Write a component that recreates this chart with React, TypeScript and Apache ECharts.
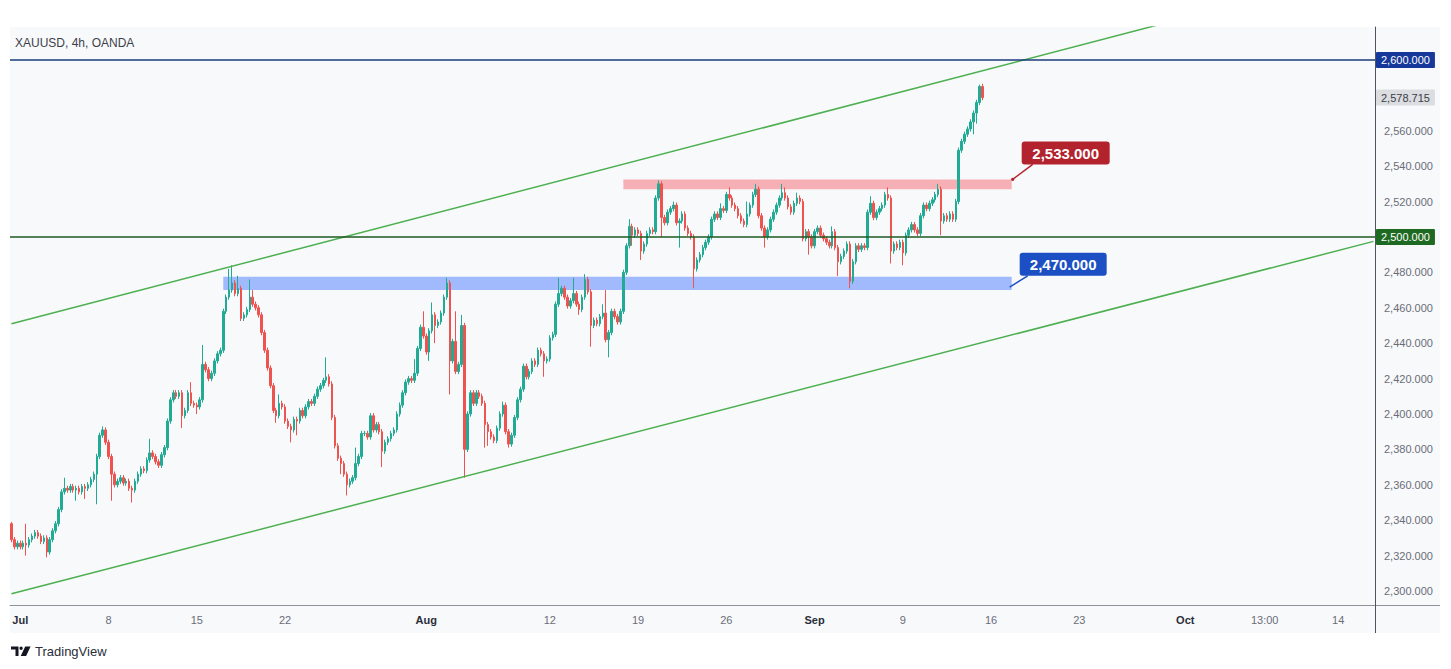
import { useEffect, useRef } from "react";
import * as echarts from "echarts";

const FONT = '"Liberation Sans", Arial, sans-serif';
const UP = "#22ab94";
const DOWN = "#ef5350";

// ---- data -------------------------------------------------------------
const firstOpen = 2338;
// 4h closes, 6 per trading day (Jun 28 tail, then Jul 1 .. Sep 13)
const closes: number[] = [
  2329, 2325, 2327,
  2325, 2327, 2326, 2329, 2331, 2333, // Jul 1
  2331, 2328, 2330, 2322, 2329, 2334,
  2338, 2346, 2356, 2358, 2357, 2359,
  2357, 2358, 2356, 2359, 2358, 2360,
  2363, 2366, 2376, 2388, 2391, 2384,
  2376, 2366, 2360, 2362, 2364, 2361, // Jul 8
  2362, 2358, 2357, 2362, 2366, 2369,
  2368, 2374, 2378, 2376, 2373, 2371,
  2377, 2381, 2396, 2408, 2412, 2410,
  2412, 2399, 2402, 2412, 2406, 2405,
  2404, 2408, 2428, 2425, 2420, 2423, // Jul 15
  2430, 2434, 2436, 2458, 2466, 2470,
  2474, 2468, 2471, 2454, 2456, 2459,
  2466, 2462, 2460, 2456, 2446, 2436,
  2426, 2416, 2402, 2399, 2406, 2404,
  2396, 2393, 2391, 2397, 2396, 2402, // Jul 22
  2399, 2404, 2407, 2406, 2410, 2414,
  2416, 2419, 2421, 2417, 2398, 2382,
  2375, 2372, 2366, 2360, 2362, 2364,
  2372, 2376, 2389, 2389, 2387, 2399,
  2391, 2394, 2390, 2379, 2384, 2386, // Jul 29
  2389, 2391, 2400, 2405, 2412, 2418,
  2420, 2419, 2423, 2437, 2449, 2444,
  2435, 2447, 2456, 2450, 2452, 2457, // Aug 1
  2466, 2474, 2430, 2441, 2424, 2428,
  2450, 2380, 2400, 2412, 2406, 2412, // Aug 5
  2410, 2406, 2394, 2390, 2387, 2385,
  2392, 2400, 2405, 2390, 2383, 2388,
  2398, 2408, 2414, 2427, 2421, 2424,
  2430, 2428, 2436, 2434, 2430, 2431,
  2443, 2445, 2462, 2468, 2471, 2466, // Aug 12
  2461, 2464, 2468, 2462, 2459, 2466,
  2476, 2469, 2450, 2453, 2451, 2455,
  2457, 2442, 2446, 2458, 2455, 2452,
  2458, 2480, 2495, 2506, 2501, 2504,
  2502, 2492, 2496, 2502, 2504, 2503, // Aug 19
  2522, 2530, 2511, 2508, 2514, 2516,
  2518, 2508, 2509, 2513, 2505, 2502,
  2500, 2482, 2487, 2490, 2494, 2497,
  2500, 2510, 2513, 2511, 2516, 2515,
  2524, 2522, 2518, 2516, 2512, 2509, // Aug 26
  2507, 2513, 2518, 2524, 2527, 2512,
  2505, 2500, 2504, 2510, 2514, 2518,
  2522, 2525, 2522, 2517, 2514, 2519,
  2522, 2520, 2499, 2503, 2500, 2495,
  2503, 2505, 2501, 2499, 2497, 2495, // Sep 2
  2503, 2494, 2486, 2489, 2492, 2496,
  2475, 2486, 2495, 2493, 2495, 2494,
  2514, 2519, 2511, 2514, 2516, 2518,
  2524, 2522, 2492, 2496, 2494, 2497,
  2491, 2501, 2504, 2507, 2504, 2502, // Sep 9
  2512, 2518, 2516, 2519, 2521, 2524,
  2527, 2509, 2512, 2510, 2513, 2510,
  2520, 2549, 2554, 2558, 2561, 2565,
  2570, 2576, 2585, 2578.715,
];

// explicit wick extremes [candle index, price]
const wickHighs: [number, number][] = [
  [0, 2339], [5, 2338], [18, 2364], [31, 2393], [47, 2386], [61, 2418], [65, 2439],
  [74, 2482], [75, 2484], [77, 2478], [81, 2476], [82, 2470], [91, 2411], [107, 2432],
  [117, 2381], [137, 2431], [140, 2458], [143, 2463], [148, 2477], [151, 2458], [153, 2456],
  [167, 2407], [186, 2477], [191, 2477], [195, 2479], [201, 2462], [202, 2470], [210, 2510],
  [220, 2532], [225, 2520], [241, 2519], [244, 2528], [250, 2520], [253, 2530], [262, 2530],
  [263, 2528], [267, 2525], [279, 2506], [292, 2523], [298, 2528], [315, 2530], [329, 2586],
];
const wickLows: [number, number][] = [
  [5, 2320], [12, 2319], [22, 2351], [25, 2352], [29, 2349], [34, 2351], [41, 2350],
  [58, 2392], [63, 2400], [90, 2395], [95, 2384], [97, 2388], [112, 2366], [114, 2354],
  [126, 2370], [142, 2430], [144, 2440], [149, 2411], [154, 2364], [161, 2381], [162, 2382],
  [169, 2381], [181, 2421], [193, 2456], [197, 2438], [203, 2432], [211, 2495], [214, 2487],
  [221, 2500], [227, 2494], [232, 2471], [256, 2494], [271, 2490], [281, 2478], [285, 2471],
  [299, 2485], [303, 2484], [316, 2501], [327, 2558], [328, 2564],
];
const minWick = 1.5;

const categoryCount = 464;
const tickIndices = [3, 33, 63, 93, 141, 183, 213, 243, 273, 303, 333, 363, 399, 426, 451];
const tickLabels = ["Jul", "8", "15", "22", "Aug", "12", "19", "26", "Sep", "9", "16", "23", "Oct", "13:00", "14"];
const monthNames = ["Jul", "Aug", "Sep", "Oct"];

const priceTicks = [2300, 2320, 2340, 2360, 2380, 2400, 2420, 2440, 2460, 2480, 2520, 2540, 2560];
const yMin = 2292.1;
const yMax = 2618.6;

const levelLines = [2600, 2500];
const lastPrice = 2578.715;

const channelIdx = [0, 463];
const channelUpper = [2451.0, 2651.5];
const channelLower = [2298.5, 2497.5];

const resistanceZone = [2527, 2532.5];
const supportZone = [2470, 2477.5];
const zoneStart = [208, 72];
const zoneEnd = 340;
const annotatedLevels = [2533, 2470];

// ---------------------------------------------------------------------
const fmt = (v: number) =>
  v.toLocaleString("en-US", { minimumFractionDigits: 3, maximumFractionDigits: 3 });

let logoRegistered = false;
function registerLogo() {
  if (logoRegistered) return;
  const d =
    "M0 0H7.5V9.5H4.5V3H0Z M8.4 1.7A1.7 1.7 0 1 0 11.8 1.7A1.7 1.7 0 1 0 8.4 1.7Z M14.2 0H19.6L15.1 9.5H9.7Z";
  echarts.graphic.registerShape("tvlogo", echarts.graphic.extendPath(d, {}) as any);
  logoRegistered = true;
}

export default function App() {
  const ref = useRef<HTMLDivElement>(null);

  useEffect(() => {
    if (!ref.current) return;
    registerLogo();
    const chart = echarts.init(ref.current, undefined, { renderer: "svg" });

    const highMap = new Map(wickHighs);
    const lowMap = new Map(wickLows);
    const candleData = closes.map((c, i) => {
      const o = i === 0 ? firstOpen : closes[i - 1];
      const h = highMap.get(i) ?? Math.max(o, c) + minWick;
      const l = lowMap.get(i) ?? Math.min(o, c) - minWick;
      return [o, c, Math.min(l, o, c), Math.max(h, o, c)];
    });
    const categories = Array.from({ length: categoryCount }, (_, i) => String(i));
    const tickSet = new Set(tickIndices);

    const tagLabel = (bg: string, fg: string) => ({
      show: true,
      position: "end",
      distance: 1,
      backgroundColor: bg,
      color: fg,
      fontSize: 11,
      fontFamily: FONT,
      padding: [3, 5, 2, 5],
      borderRadius: 1,
    });

    const option: any = {
      animation: false,
      backgroundColor: "#ffffff",
      textStyle: { fontFamily: FONT },
      grid: { left: 10, right: 76, top: 27, bottom: 64, containLabel: false },
      xAxis: {
        type: "category",
        data: categories,
        boundaryGap: true,
        axisLine: { show: true, lineStyle: { color: "#8f929b", width: 1 } },
        axisTick: { show: false },
        splitLine: { show: false },
        axisLabel: {
          interval: (i: number) => tickSet.has(i),
          formatter: (v: string) => {
            const t = tickLabels[tickIndices.indexOf(Number(v))] ?? "";
            return monthNames.includes(t) ? `{m|${t}}` : `{d|${t}}`;
          },
          margin: 9,
          rich: {
            m: { fontSize: 11, fontWeight: "bold", color: "#2a2e39", fontFamily: FONT },
            d: { fontSize: 11, color: "#6a6d78", fontFamily: FONT },
          },
        },
      },
      yAxis: {
        type: "value",
        position: "right",
        min: yMin,
        max: yMax,
        scale: true,
        axisLine: { show: true, lineStyle: { color: "#50535e" } },
        axisTick: { show: false },
        splitLine: { show: false },
        axisLabel: {
          customValues: priceTicks,
          formatter: (v: number) => fmt(v),
          color: "#6a6d78",
          fontSize: 11,
          margin: 9,
          fontFamily: FONT,
        },
      },
      series: [
        {
          type: "candlestick",
          data: candleData,
          barWidth: 2,
          z: 2,
          silent: true,
          itemStyle: {
            color: UP,
            color0: DOWN,
            borderColor: UP,
            borderColor0: DOWN,
            borderWidth: 1,
          },
        },
        {
          type: "line",
          data: [
            [channelIdx[0], channelLower[0]],
            [channelIdx[1], channelLower[1]],
          ],
          symbol: "none",
          silent: true,
          z: 4,
          clip: true,
          lineStyle: { color: "#4caf50", width: 1.5 },
        },
        {
          type: "line",
          data: [
            [channelIdx[0], channelUpper[0]],
            [channelIdx[1], channelUpper[1]],
          ],
          symbol: "none",
          silent: true,
          z: 4,
          clip: true,
          lineStyle: { color: "#4caf50", width: 1.5 },
          markArea: {
            silent: true,
            data: [
              [
                { coord: [zoneStart[0], resistanceZone[1]], itemStyle: { color: "rgba(242,54,69,0.38)" } },
                { coord: [zoneEnd, resistanceZone[0]] },
              ],
              [
                { coord: [zoneStart[1], supportZone[1]], itemStyle: { color: "rgba(41,98,255,0.42)" } },
                { coord: [zoneEnd, supportZone[0]] },
              ],
            ],
          },
          markLine: {
            silent: true,
            symbol: ["none", "none"],
            animation: false,
            data: [
              {
                yAxis: levelLines[0],
                lineStyle: { color: "#1b3c78", width: 1.5, type: "solid" },
                label: { ...tagLabel("#15389a", "#ffffff"), formatter: fmt(levelLines[0]) },
              },
              {
                yAxis: levelLines[1],
                lineStyle: { color: "#1e5a22", width: 1.5, type: "solid" },
                label: { ...tagLabel("#1f6a22", "#ffffff"), formatter: fmt(levelLines[1]) },
              },
              {
                yAxis: lastPrice,
                lineStyle: { color: "rgba(0,0,0,0)", width: 1, type: "solid" },
                label: { ...tagLabel("#dcdde0", "#3a3d47"), formatter: fmt(lastPrice) },
              },
            ],
          },
        },
      ],
    };
    chart.setOption(option);

    const toPx = (x: number, y: number) =>
      chart.convertToPixel({ xAxisIndex: 0, yAxisIndex: 0 }, [x, y]) as number[];
    const rTop = toPx(zoneEnd, resistanceZone[1]);
    const bTop = toPx(zoneEnd, supportZone[1]);
    const bBot = toPx(zoneEnd, supportZone[0]);

    const redBox = { x: rTop[0] + 10, y: rTop[1] - 38, w: 88, h: 23 };
    const blueBox = { x: bTop[0] + 8, y: bTop[1] - 24, w: 87, h: 23 };
    const RED = "#b3232e";
    const BLUE = "#1c4fc4";

    const box = (b: any, fill: string, text: string) => ({
      type: "group",
      z: 100,
      children: [
        { type: "rect", shape: { x: b.x, y: b.y, width: b.w, height: b.h, r: 3 }, style: { fill } },
        {
          type: "text",
          x: b.x + b.w / 2,
          y: b.y + b.h / 2 + 0.5,
          style: {
            text,
            fill: "#ffffff",
            fontSize: 15,
            fontWeight: "bold",
            fontFamily: FONT,
            align: "center",
            verticalAlign: "middle",
          },
        },
      ],
    });

    chart.setOption({
      graphic: [
        {
          type: "rect",
          z: -10,
          silent: true,
          shape: { x: 10, y: 27, width: 1430, height: 606 },
          style: { fill: "#f8f9fb" },
        },
        {
          type: "line",
          z: 50,
          shape: { x1: 1375, y1: 605.5, x2: 1440, y2: 605.5 },
          style: { stroke: "#8f929b", lineWidth: 1 },
        },
        {
          type: "line",
          z: 50,
          shape: { x1: 1375.5, y1: 605, x2: 1375.5, y2: 633 },
          style: { stroke: "#50535e", lineWidth: 1 },
        },
        {
          type: "text",
          x: 15,
          y: 43,
          style: {
            text: "XAUUSD, 4h, OANDA",
            fill: "#3c3f4a",
            fontSize: 12,
            fontFamily: FONT,
            verticalAlign: "middle",
          },
        },
        {
          type: "line",
          z: 99,
          shape: { x1: rTop[0] + 1, y1: rTop[1], x2: redBox.x + 11, y2: redBox.y + redBox.h },
          style: { stroke: RED, lineWidth: 1.5 },
        },
        {
          type: "circle",
          z: 99,
          shape: { cx: rTop[0] + 1, cy: rTop[1], r: 1.6 },
          style: { fill: RED },
        },
        box(redBox, RED, fmt(annotatedLevels[0])),
        {
          type: "line",
          z: 99,
          shape: { x1: bBot[0] - 2, y1: bBot[1] - 3, x2: blueBox.x + 8, y2: blueBox.y + blueBox.h },
          style: { stroke: BLUE, lineWidth: 1.5 },
        },
        box(blueBox, BLUE, fmt(annotatedLevels[1])),
        {
          type: "tvlogo",
          x: 11,
          y: 646.5,
          scaleX: 1,
          scaleY: 1,
          style: { fill: "#131722" },
        },
        {
          type: "text",
          x: 35,
          y: 651.5,
          style: {
            text: "TradingView",
            fill: "#2a2e39",
            fontSize: 13,
            fontFamily: FONT,
            verticalAlign: "middle",
          },
        },
      ],
    });

    return () => chart.dispose();
  }, []);

  return (
    <div
      ref={ref}
      style={{ position: "absolute", left: 0, top: 0, width: 1451, height: 669, background: "#ffffff" }}
    />
  );
}
